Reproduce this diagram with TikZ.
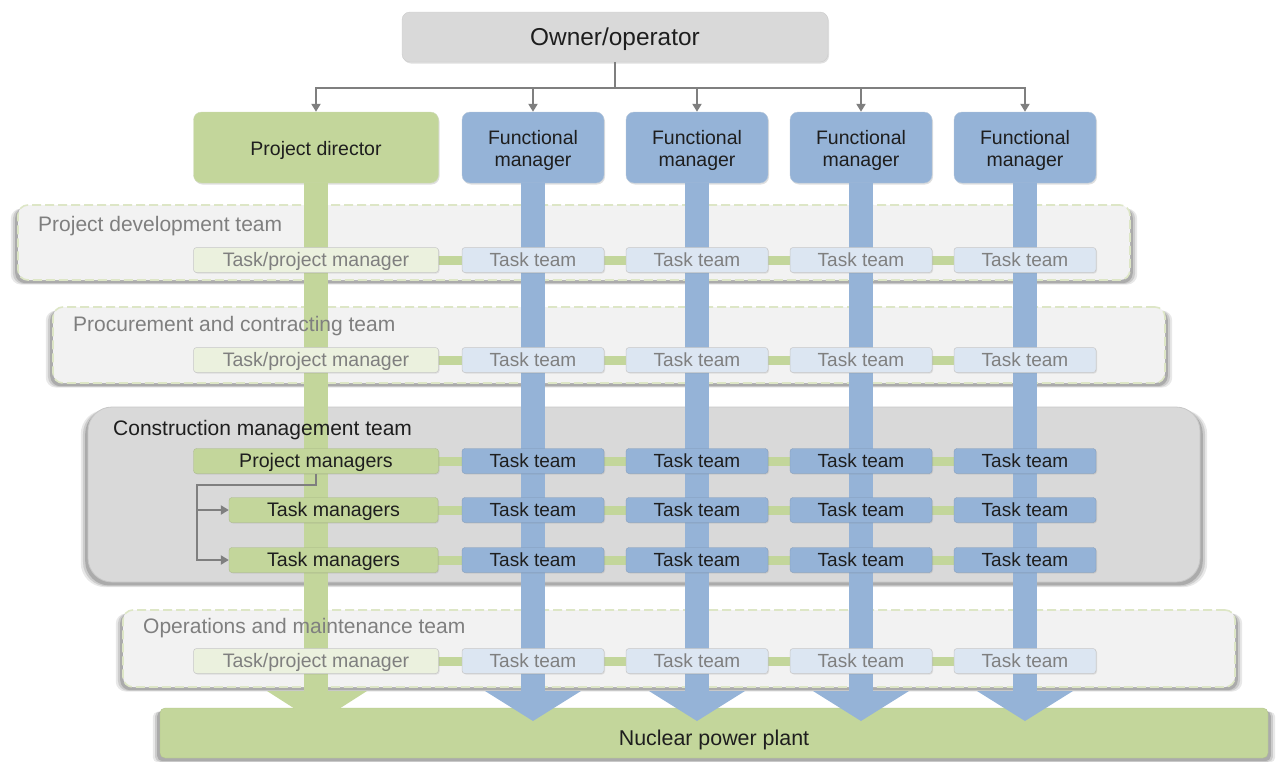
\documentclass[tikz,border=0pt]{standalone}
\usepackage{fontspec}
\setmainfont{Liberation Sans}
\usetikzlibrary{shadows,arrows.meta}

\definecolor{grn}{HTML}{C3D69B}
\definecolor{grnpale}{HTML}{EBF1DE}
\definecolor{blu}{HTML}{95B3D7}
\definecolor{blupale}{HTML}{DCE6F2}
\definecolor{boxgrey}{HTML}{D9D9D9}
\definecolor{panelfill}{HTML}{F2F2F2}
\definecolor{dashcol}{HTML}{DDE6C6}
\definecolor{txtgrey}{HTML}{7F7F7F}
\definecolor{linegrey}{HTML}{7F7F7F}
\definecolor{txtdark}{HTML}{1E1E1E}

% two centred lines, baseline on the first one
\newcommand\twolines[2]{\begin{tabular}[t]{@{}c@{}}#1\\#2\end{tabular}}

\tikzset{
  softshadow/.style={
    general shadow={fill=black, opacity=.09, shadow scale=1.013, shadow yshift=-4pt},
    general shadow={fill=black, opacity=.12, shadow scale=1.009, shadow yshift=-3.5pt},
    general shadow={fill=black, opacity=.16, shadow scale=1.005, shadow yshift=-3pt}},
  lightpanel/.style={softshadow, rounded corners=10pt, fill=panelfill, draw=dashcol,
    line width=1.6pt, dash pattern=on 9pt off 4pt, inner sep=0pt},
  cmpanel/.style={softshadow, rounded corners=24pt, fill=boxgrey, draw=black!22,
    line width=.8pt, inner sep=0pt},
  panellabel/.style={anchor=base west, inner sep=0pt, font=\fontsize{21}{24}\selectfont},
  headbox/.style={drop shadow={opacity=.25, shadow xshift=1pt, shadow yshift=-1.5pt},
    rounded corners=8pt, minimum height=71pt, text=txtdark,
    font=\fontsize{19.5}{22.5}\selectfont, inner sep=0pt},
  pdirbox/.style={headbox, fill=grn, draw=grn!90!black!60, line width=.4pt, minimum width=245pt,
    text height=15pt, text depth=0pt},
  fmbox/.style={headbox, fill=blu, draw=blu!90!black!60, line width=.4pt, minimum width=142pt,
    text height=14pt, text depth=20.4pt},
  rowbox/.style={drop shadow={opacity=.18, shadow xshift=1pt, shadow yshift=-1pt},
    rounded corners=3pt, minimum height=25pt, inner sep=0pt,
    text height=12.8pt, text depth=0pt, font=\fontsize{19}{22}\selectfont},
  tpmfaded/.style={rowbox, fill=grnpale, draw=black!22, line width=.5pt, text=txtgrey,
    minimum width=245pt, font=\fontsize{19.5}{22}\selectfont},
  ttfaded/.style={rowbox, fill=blupale, draw=black!22, line width=.5pt, text=txtgrey, minimum width=142pt},
  pmbox/.style={rowbox, fill=grn, draw=grn!85!black, line width=.3pt, text=txtdark,
    font=\fontsize{19.6}{22}\selectfont},
  ttbox/.style={rowbox, fill=blu, draw=blu!85!black, line width=.3pt, text=txtdark, minimum width=142pt},
  rowlink/.style={draw=grn, line width=9pt},
  conn/.style={draw=linegrey, line width=2.6pt, -{Triangle[length=8pt,width=9pt]}},
  plainconn/.style={draw=linegrey, line width=2.6pt},
  greenbar/.style={draw=grn, line width=24pt},
  bluebar/.style={draw=blu, line width=24pt},
}

\begin{document}
\begin{tikzpicture}[x=1pt, y=-1pt]
\useasboundingbox (0,0) rectangle (1278,761);

% ---------- team panels ----------
\node[lightpanel, minimum width=1112pt, minimum height=75pt] (pdpanel) at (574,242.5) {};
\node[lightpanel, minimum width=1112pt, minimum height=76pt] (pcpanel) at (609,345) {};
\node[cmpanel, minimum width=1112pt, minimum height=175pt] (cmpanel) at (644,494.5) {};
\node[lightpanel, minimum width=1112pt, minimum height=77pt] (ompanel) at (679,648.5) {};

% ---------- delivered plant ----------
\node[softshadow, rounded corners=5pt, fill=grn, draw=grn!90!black, line width=.3pt,
      minimum width=1108pt, minimum height=50pt, inner sep=0pt] (plant) at (714,733) {};

% ---------- top level ----------
\node[headbox, fill=boxgrey, draw=black!20, line width=.4pt, minimum width=426pt, minimum height=50pt,
      text height=17.4pt, text depth=0pt, font=\fontsize{24.4}{28}\selectfont] (owner) at (615,37) {Owner/operator};
\node[pdirbox] (pdir) at (316,147.5) {Project director};
\node[fmbox] (fm1) at (533,147.5) {\twolines{Functional}{manager}};
\node[fmbox] (fm2) at (697,147.5) {\twolines{Functional}{manager}};
\node[fmbox] (fm3) at (861,147.5) {\twolines{Functional}{manager}};
\node[fmbox] (fm4) at (1025,147.5) {\twolines{Functional}{manager}};

% ---------- flow bars into the plant ----------
\coordinate (barend) at (0,693);
\draw[greenbar] (pdir.south) -- (pdir.south |- barend);
\fill[grn] (267,691) -- (367,691) -- (317,723) -- cycle;
\foreach \n in {fm1,fm2,fm3,fm4}{
  \draw[bluebar] (\n.south) -- (\n.south |- barend);
}
\foreach \cx in {533,697,861,1025}{
  \fill[blu] (\cx-48,691) -- (\cx+48,691) -- (\cx,721) -- cycle;
}

% ---------- project development row ----------
\draw[rowlink] (316,260) -- (1025,260);
\node[tpmfaded] (pdm) at (316,260) {Task/project manager};
\node[ttfaded] (pdt1) at (533,260) {Task team};
\node[ttfaded] (pdt2) at (697,260) {Task team};
\node[ttfaded] (pdt3) at (861,260) {Task team};
\node[ttfaded] (pdt4) at (1025,260) {Task team};

% ---------- procurement row ----------
\draw[rowlink] (316,360) -- (1025,360);
\node[tpmfaded] (pcm) at (316,360) {Task/project manager};
\node[ttfaded] (pct1) at (533,360) {Task team};
\node[ttfaded] (pct2) at (697,360) {Task team};
\node[ttfaded] (pct3) at (861,360) {Task team};
\node[ttfaded] (pct4) at (1025,360) {Task team};

% ---------- construction rows ----------
\draw[rowlink] (316,461) -- (1025,461);
\draw[rowlink] (333,510) -- (1025,510);
\draw[rowlink] (333,560) -- (1025,560);
\node[pmbox, minimum width=245pt] (pm) at (316,461) {Project managers};
\node[pmbox, minimum width=209pt] (tm1) at (333.5,510) {Task managers};
\node[pmbox, minimum width=209pt] (tm2) at (333.5,560) {Task managers};
\foreach \r/\y in {a/461,b/510,c/560}{
  \node[ttbox] (ct\r1) at (533,\y) {Task team};
  \node[ttbox] (ct\r2) at (697,\y) {Task team};
  \node[ttbox] (ct\r3) at (861,\y) {Task team};
  \node[ttbox] (ct\r4) at (1025,\y) {Task team};
}

% ---------- operations row ----------
\draw[rowlink] (316,661) -- (1025,661);
\node[tpmfaded] (omm) at (316,661) {Task/project manager};
\node[ttfaded] (omt1) at (533,661) {Task team};
\node[ttfaded] (omt2) at (697,661) {Task team};
\node[ttfaded] (omt3) at (861,661) {Task team};
\node[ttfaded] (omt4) at (1025,661) {Task team};

% ---------- panel titles ----------
\node[panellabel, text=txtgrey] (pdlabel) at (38,231) {Project development team};
\node[panellabel, text=txtgrey] (pclabel) at (73,331) {Procurement and contracting team};
\node[panellabel, text=txtdark] (cmlabel) at (113,435) {Construction management team};
\node[panellabel, text=txtgrey] (omlabel) at (143,633) {Operations and maintenance team};

\node[anchor=base, inner sep=0pt, font=\fontsize{21.4}{24}\selectfont, text=txtdark] (plantlabel)
  at (714,745) {Nuclear power plant};

% ---------- reporting lines ----------
\coordinate (bus) at (615,88);
\draw[plainconn] (owner.south) -- (bus);
\draw[conn] (bus) -| (pdir.north);
\foreach \n in {fm1,fm2,fm3,fm4}{
  \draw[conn] (bus) -| (\n.north);
}

\coordinate (split) at (197,485);
\draw[conn] (pm.south) |- (split) |- (tm1.west);
\draw[conn] (split) |- (tm2.west);

\end{tikzpicture}
\end{document}
